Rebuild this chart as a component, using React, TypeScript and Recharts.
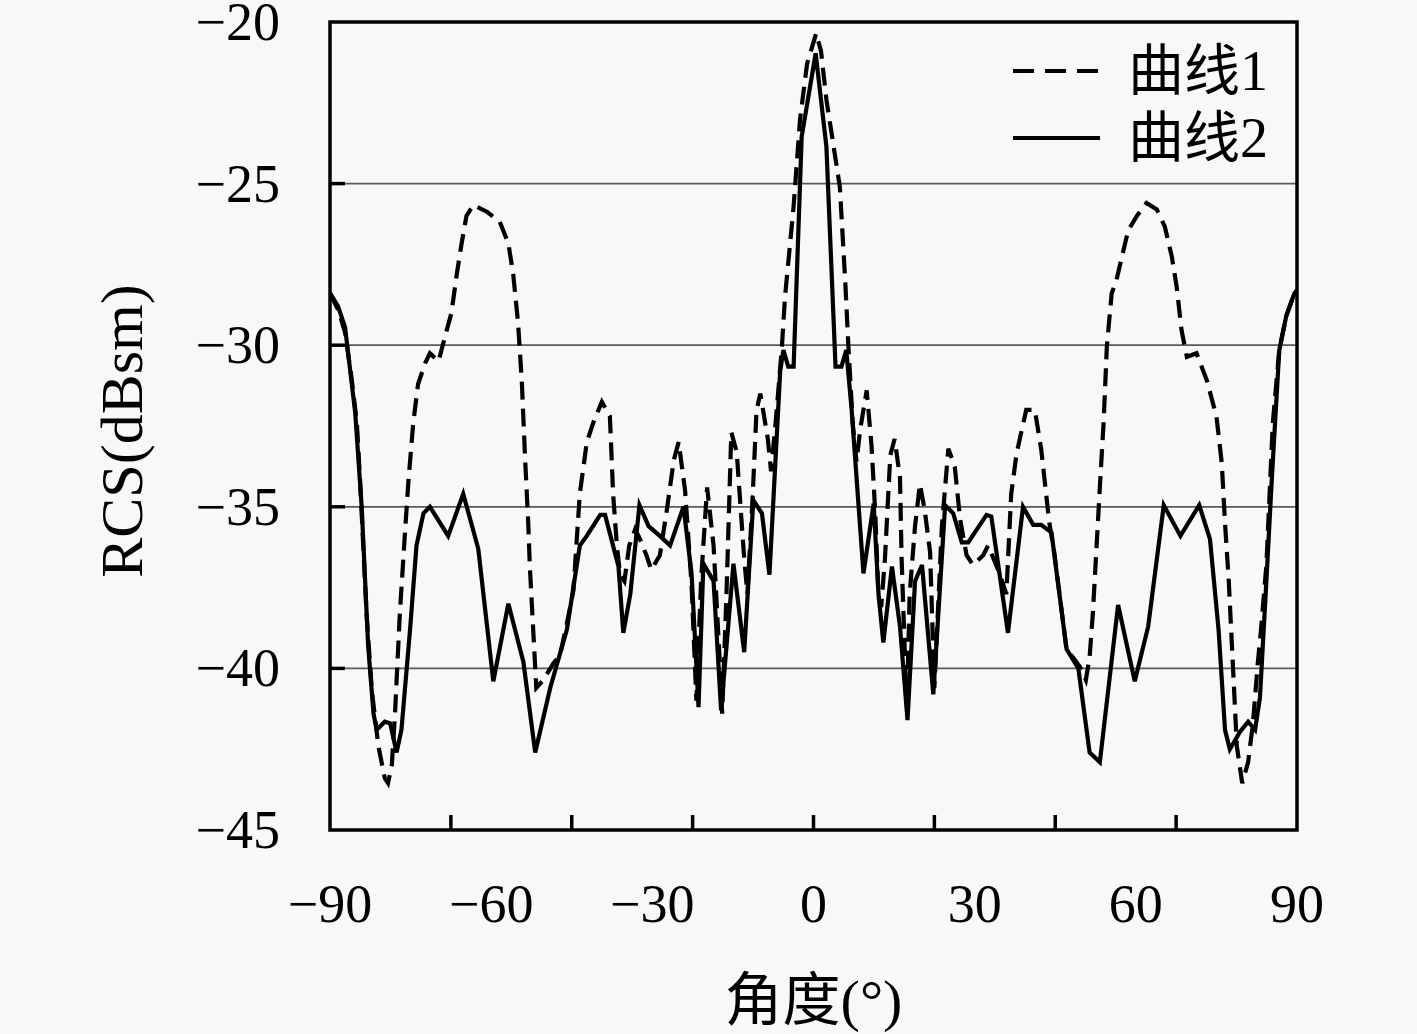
import React from 'react'
import { LineChart, Line, XAxis, YAxis, CartesianGrid, ReferenceArea, Legend, Label } from 'recharts'

document.body.style.margin = '0'
document.body.style.background = '#f8f8f8'

const SERIF = "'Liberation Serif', 'Noto Sans CJK SC', serif"

// 曲线1 (dashed)
const angles1 = [
  -90, -88.5, -87.2, -86, -85, -84.4, -83.2, -82.2, -81, -79.8, -79.2, -78.5, -77.9, -77, -76, -75.4,
  -74.5, -73.6, -72.3, -71.4, -69.8, -68.6, -67.4, -66.4, -65.5, -64.6, -63.3, -60.8, -58.4, -56.8,
  -55.9, -55, -54.3, -53.7, -53.1, -52.8, -51.6, -50.3, -48.4, -47.2, -45.9, -44.7, -44.1, -43.5,
  -42.2, -41, -39.4, -37.9, -37.3, -36.6, -36, -35.2, -34.3, -33.2, -32.3, -31.1, -30.2, -28.6, -27.3,
  -26, -25.1, -23.9, -22.7, -21.8, -20.9, -19.8, -18.6, -17.4, -17, -16.2, -15.3, -14.3, -12.9, -12.3,
  -11.3, -10.6, -9.9, -8.5, -7.9, -7, -5.9, -5.3, -3.7, -2.5, -1.2, 0.5, 1.4, 2.4, 4.9, 5.9, 6.5, 7.3,
  8, 8.7, 9.9, 10.8, 11.5, 12.1, 12.6, 13.3, 14.3, 15.1, 16.1, 16.4, 17, 17.4, 17.9, 18.9, 19.8, 20.7,
  21.7, 22.5, 23.9, 25.1, 26.3, 27.3, 28.5, 29.7, 31.6, 32.5, 34.5, 35.9, 36.8, 37.8, 39.6, 41.2, 42.4,
  43.9, 44.8, 47.1, 49.6, 50.7, 51.4, 52, 52.7, 53.3, 54, 54.6, 55.5, 56.4, 58, 58.6, 60.2, 62, 63.9,
  65.4, 66.7, 67.6, 68.5, 69.5, 71.3, 73.2, 75, 76, 76.6, 77.3, 78.2, 78.8, 79.8, 80.9, 81.8, 82.7,
  83.3, 84.3, 85.5, 86.7, 88, 89.5, 90,
]
const rcs1 = [
  -28.4, -28.9, -29.6, -31, -32.4, -34.2, -38.3, -40.7, -42.4, -43.4, -43.55, -43, -41.4, -38.3, -35.7, -34.2,
  -32.4, -31.2, -30.56, -30.25, -30.5, -29.74, -29, -27.8, -26.85, -26, -25.66, -25.87, -26.18, -26.85,
  -27.8, -29.3, -31.1, -33.45, -35.5, -36.85, -40.6, -40.36, -39.84, -39.6, -38.6, -37.6, -36.1, -34.6,
  -33, -32.4, -31.75, -32.2, -34.6, -36.2, -37.1, -37.3, -36.2, -35.7, -36, -36.5, -36.95, -36.5, -35.1,
  -33.55, -33, -34.5, -37.4, -41, -37.2, -34.4, -36.2, -39.95, -41.4, -37.7, -32.7, -33.3, -36.6, -37.7,
  -34.6, -32, -31.5, -32.9, -33.9, -32.3, -30.1, -28.5, -25.7, -23, -21.3, -20.35, -20.9, -22.4, -25.1, -28, -30.05, -32.4,
  -33.6, -32.6, -31.4, -33.1, -35.2, -37.8, -38.1, -36.6, -33.4, -32.9, -34.1, -36.6, -39.5, -41.2, -37.7, -35.6, -34.3, -35.1,
  -36.4, -40.6, -35.6, -33.2, -33.76, -35.4, -36.5, -36.8, -36.5, -36.2, -37, -37.7, -34.6, -33.35, -32, -32, -33.24,
  -35.5, -36.4, -39.4, -39.95, -40.36, -39.64, -38.3, -36.2, -34.4, -32.4, -30.05, -28.4, -27.98, -26.85, -26.44, -26, -25.6, -25.8,
  -26.33, -27.26, -28.19, -29.53, -30.36, -30.25, -31.08, -32.2, -33.65, -35.5, -37.3, -40.36, -42.4, -43.55, -42.9, -41.7, -39.84,
  -38.8, -36.8, -32.4, -30.15, -29.1, -28.4, -28.3,
]

// 曲线2 (solid)
const angles2 = [
  -90, -88.5, -87.2, -85.3, -84.1, -82.9, -81.9, -81.3, -79.8, -78.8, -77.6, -76.7, -75.1, -73.9, -72.6,
  -71.4, -68, -65.2, -62.4, -59.6, -56.8, -54, -51.8, -49, -45.9, -43.5, -42.2, -39.7, -38.8, -36.3,
  -35.4, -34.1, -32.4, -30.7, -28.6, -26.7, -24.2, -22.7, -21.4, -20.5, -18.6, -17.2, -14.9, -12.9,
  -11.2, -9.6, -8.2, -6.2, -5.6, -4.7, -3.7, -2.2, 0.4, 2.4, 4.1, 5.2, 6.1, 7.1, 9.3, 11.2, 12.1, 13,
  14.6, 16.1, 17.5, 18.9, 20.2, 22.3, 24.5, 26, 27.6, 28.8, 32.2, 33.1, 36.2, 39, 40.9, 42.4, 44.3,
  47.1, 49.3, 51.4, 53.3, 56.7, 59.8, 62.3, 65.2, 68.3, 71.8, 73.8, 75.4, 76.6, 77.5, 79.4, 80.9, 82.2,
  83.1, 84.3, 85.3, 86.7, 88, 89.5, 90,
]
const rcs2 = [
  -28.39, -28.8, -29.44, -32.1, -35, -39.3, -41.4, -41.9, -41.65, -41.7, -42.6, -41.9, -38.8, -36.2, -35.2,
  -35, -35.9, -34.6, -36.3, -40.4, -38, -39.8, -42.6, -40.6, -38.8, -36.2, -35.9, -35.25, -35.25, -36.85,
  -38.9, -37.7, -34.95, -35.6, -35.9, -36.2, -35, -37.06, -41.2, -36.76, -37.3, -41.3, -36.76, -39.5,
  -34.8, -35.2, -37.1, -30.8, -30.15, -30.66, -30.66, -23.55, -20.97, -23.85, -30.66, -30.66, -30.15, -32, -37.06, -34.9, -37.7, -39.2,
  -36.85, -38.7, -41.6, -37.3, -36.8, -40.8, -34.95, -35.2, -36.1, -36.1, -35.25, -35.3, -38.9, -35, -35.56, -35.56, -35.8,
  -39.4, -40, -42.6, -42.9, -38.04, -40.4, -38.7, -34.95, -35.9, -34.95, -36, -38.8, -41.9, -42.5, -41.96, -41.65, -41.9,
  -40.9, -37.3, -34.17, -30.15, -29.1, -28.4, -28.3,
]

const xTicks = [-90, -67.5, -60, -45, -30, -22.5, 0, 22.5, 30, 45, 60, 67.5, 90]
const yTicks = [-45, -40, -35, -30, -25, -20]

const curve1 = angles1.map((a, i) => ({ a, v: rcs1[i] }))
const curve2 = angles2.map((a, i) => ({ a, v: rcs2[i] }))

const fmt = (v: number) => (v < 0 ? `\u2212${Math.abs(v)}` : `${v}`)

function XTick({ x, y, payload }: any) {
  const v = payload.value
  const label = Math.abs(v % 30) < 1e-6
  const mark = Math.abs(v % 22.5) < 1e-6 && Math.abs(v) < 90
  return (
    <g>
      {mark && <line x1={x} x2={x} y1={y} y2={y - 15} stroke="#000" strokeWidth={3.5} />}
      {label && (
        <text x={x} y={y + 92} textAnchor="middle" fontFamily={SERIF} fontSize={54} fill="#000">
          {fmt(v)}
        </text>
      )}
    </g>
  )
}

function YTick({ x, y, payload }: any) {
  const v = payload.value
  const mark = v > -45 && v < -20
  return (
    <g>
      {mark && <line x1={x} x2={x + 15} y1={y} y2={y} stroke="#000" strokeWidth={3.5} />}
      <text x={x - 50} y={y + 18} textAnchor="end" fontFamily={SERIF} fontSize={54} fill="#000">
        {fmt(v)}
      </text>
    </g>
  )
}

function LegendBox() {
  return (
    <svg width={300} height={150}>
      <line x1={13} x2={100} y1={49} y2={49} stroke="#000" strokeWidth={4.2} strokeDasharray="21 11" />
      <text x={128} y={49} dominantBaseline="central" fontFamily={SERIF} fontSize={56} fill="#000">曲线1</text>
      <line x1={13} x2={100} y1={116} y2={116} stroke="#000" strokeWidth={4.2} />
      <text x={128} y={116} dominantBaseline="central" fontFamily={SERIF} fontSize={56} fill="#000">曲线2</text>
    </svg>
  )
}

export default function App() {
  return (
    <LineChart width={1417} height={1034} margin={{ top: 22, right: 120, left: 0, bottom: 0 }}>
      <CartesianGrid vertical={false} stroke="#5a5a5a" strokeWidth={1.8} />
      <XAxis
        dataKey="a"
        type="number"
        domain={[-90, 90]}
        ticks={xTicks}
        interval={0}
        height={204}
        axisLine={false}
        tickLine={false}
        tickSize={0}
        tickMargin={0}
        tick={<XTick />}
        allowDataOverflow
      >
        <Label
          content={({ viewBox }: any) => (
            <text
              x={viewBox.x + viewBox.width / 2}
              y={viewBox.y + 170}
              textAnchor="middle"
              dominantBaseline="central"
              fontFamily={SERIF}
              fontSize={58}
              fill="#000"
            >
              角度(°)
            </text>
          )}
        />
      </XAxis>
      <YAxis
        type="number"
        domain={[-45, -20]}
        ticks={yTicks}
        interval={0}
        width={330}
        axisLine={false}
        tickLine={false}
        tickSize={0}
        tickMargin={0}
        tick={<YTick />}
        allowDataOverflow
      >
        <Label
          content={({ viewBox }: any) => {
            const cx = 122
            const cy = viewBox.y + viewBox.height / 2 + 5
            return (
              <text
                x={cx}
                y={cy}
                transform={`rotate(-90 ${cx} ${cy})`}
                textAnchor="middle"
                dominantBaseline="central"
                fontFamily={SERIF}
                fontSize={60}
                fill="#000"
              >
                RCS(dBsm)
              </text>
            )
          }}
        />
      </YAxis>
      <Line
        data={curve1}
        dataKey="v"
        name="曲线1"
        type="linear"
        stroke="#000"
        strokeWidth={4.2}
        strokeDasharray="18 9"
        dot={false}
        activeDot={false}
        isAnimationActive={false}
      />
      <Line
        data={curve2}
        dataKey="v"
        name="曲线2"
        type="linear"
        stroke="#000"
        strokeWidth={4.2}
        dot={false}
        activeDot={false}
        isAnimationActive={false}
      />
      <ReferenceArea x1={-90} x2={90} y1={-45} y2={-20} fill="none" stroke="#000" strokeWidth={3.5} ifOverflow="visible" />
      <Legend
        layout="vertical"
        align="center"
        verticalAlign="middle"
        content={() => <LegendBox />}
        wrapperStyle={{ position: 'absolute', left: 1000, top: 22, width: 300, height: 150 }}
      />
    </LineChart>
  )
}
